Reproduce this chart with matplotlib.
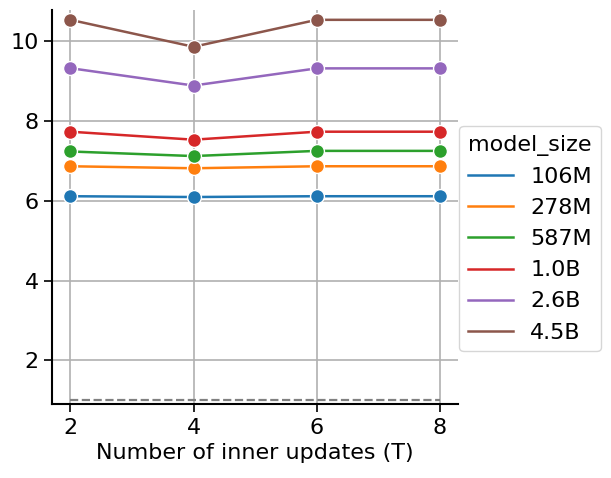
import matplotlib
matplotlib.use("Agg")
import matplotlib.pyplot as plt

# data
steps = [2, 4, 6, 8]
model_sizes = ['106M', '278M', '587M', '1.0B', '2.6B', '4.5B']
values = {
    '106M': [6.11, 6.09, 6.11, 6.11],
    '278M': [6.86, 6.81, 6.86, 6.86],
    '587M': [7.23, 7.115, 7.245, 7.245],
    '1.0B': [7.725, 7.525, 7.725, 7.725],
    '2.6B': [9.315, 8.88, 9.31, 9.31],
    '4.5B': [10.525, 9.85, 10.525, 10.525],
}
baseline = 1.0
colors = ['#1f77b4', '#ff7f0e', '#2ca02c', '#d62728', '#9467bd', '#8c564b']

fig = plt.figure(figsize=(6.11, 4.78), dpi=100)
ax = fig.add_axes([0.085, 0.154, 0.665, 0.825])

for size, color in zip(model_sizes, colors):
    ax.plot(steps, values[size], color=color, lw=1.8, label=size)
    ax.plot(steps, values[size], 'o', color=color, ms=10,
            mec='white', mew=1, label='_nolegend_')

ax.hlines(baseline, steps[0], steps[-1], colors='gray', linestyles='--', lw=1.6)

ax.set_xlim(1.7, 8.3)
ax.set_ylim(0.9, 10.77)
ax.set_xticks(steps)
ax.set_yticks([2, 4, 6, 8, 10])
ax.grid(True, color='#b0b0b0', lw=1.2)
ax.set_axisbelow(True)
ax.tick_params(labelsize=16, length=6, width=1.2)
ax.set_xlabel("Number of inner updates (T)", fontsize=16, labelpad=4)
for s in ['top', 'right']:
    ax.spines[s].set_visible(False)
for s in ['left', 'bottom']:
    ax.spines[s].set_linewidth(1.5)

leg = ax.legend(title='model_size', loc='center left', bbox_to_anchor=(0.975, 0.42),
                fontsize=16, title_fontsize=16, handlelength=2.0,
                labelspacing=0.5, borderpad=0.4, handletextpad=0.8)

fig.savefig('out.png', dpi=100)
